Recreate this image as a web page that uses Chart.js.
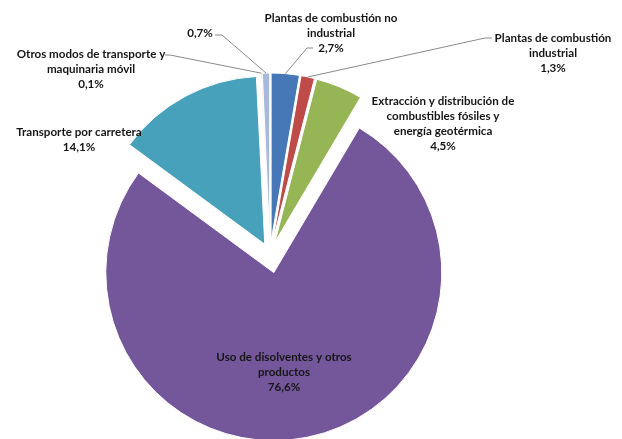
<!DOCTYPE html>
<html><head><meta charset="utf-8">
<script src="https://cdn.jsdelivr.net/npm/chart.js@4/dist/chart.umd.min.js"></script>
<style>html,body{margin:0;padding:0;background:#fff}#wrap{width:622px;height:439px;position:relative}</style>
</head><body><div id="wrap"><canvas id="c" width="622" height="439"></canvas></div>
<script>
// ---- data ----
const categories = [
  "Plantas de combustión no industrial",
  "Plantas de combustión industrial",
  "Extracción y distribución de combustibles fósiles y energía geotérmica",
  "Uso de disolventes y otros productos",
  "Transporte por carretera",
  "Otros modos de transporte y maquinaria móvil",
  ""
];
const values = [2.7, 1.3, 4.5, 76.6, 14.1, 0.1, 0.7];
const valueLabels = ["2,7%", "1,3%", "4,5%", "76,6%", "14,1%", "0,1%", "0,7%"];
const categoryLines = [
  ["Plantas de combustión no", "industrial"],
  ["Plantas de combustión", "industrial"],
  ["Extracción y distribución de", "combustibles fósiles y", "energía geotérmica"],
  ["Uso de disolventes y otros", "productos"],
  ["Transporte por carretera"],
  ["Otros modos de transporte y", "maquinaria móvil"],
  []
];

// ---- style ----
const colors = ['#4677B6', '#BE4B48', '#96B656', '#74579A', '#48A1BB', '#F79646', '#A7BADC'];
const explode = [13, 13, 13, 19, 11, 13, 13];
const labelPos = [
  {x: 331, y: 18, leader: [[313, 48], [307, 48]]},
  {x: 553, y: 38, leader: [[492, 38], [485, 38]]},
  {x: 443, y: 101},
  {x: 284, y: 357},
  {x: 79, y: 132},
  {x: 91, y: 54, leader: [[165, 55], [170, 55]]},
  {x: 200, y: 33, leader: [[215, 35], [222, 35]]}
];
const lineH = 15;

const explodePlugin = {
  id: 'explode',
  beforeDatasetDraw(chart, args) {
    const ctx = chart.ctx;
    args.meta.data.forEach((arc, i) => {
      const mid = (arc.startAngle + arc.endAngle) / 2;
      const d = explode[i];
      ctx.save();
      ctx.translate(Math.cos(mid) * d, Math.sin(mid) * d);
      arc.draw(ctx, chart.chartArea);
      ctx.restore();
    });
    return false;
  }
};

const labelPlugin = {
  id: 'labels',
  afterDraw(chart) {
    const ctx = chart.ctx;
    const meta = chart.getDatasetMeta(0);
    ctx.save();
    ctx.strokeStyle = '#8a8a8a';
    ctx.lineWidth = 1;
    meta.data.forEach((arc, i) => {
      const p = labelPos[i];
      if (!p.leader) return;
      const mid = (arc.startAngle + arc.endAngle) / 2;
      const r = arc.outerRadius + explode[i];
      const ex = arc.x + Math.cos(mid) * r;
      const ey = arc.y + Math.sin(mid) * r;
      ctx.beginPath();
      ctx.moveTo(p.leader[0][0], p.leader[0][1]);
      ctx.lineTo(p.leader[1][0], p.leader[1][1]);
      ctx.lineTo(ex, ey);
      ctx.stroke();
    });
    ctx.fillStyle = '#161616';
    ctx.font = 'bold 11.6px Lato';
    ctx.textAlign = 'center';
    ctx.textBaseline = 'middle';
    meta.data.forEach((arc, i) => {
      const p = labelPos[i];
      const lines = categoryLines[i].concat([valueLabels[i]]);
      lines.forEach((t, k) => ctx.fillText(t, p.x, p.y + k * lineH));
    });
    ctx.restore();
  }
};

new Chart(document.getElementById('c'), {
  type: 'pie',
  data: {
    labels: categories,
    datasets: [{
      data: values,
      backgroundColor: colors,
      borderColor: '#ffffff',
      borderWidth: 1,
      radius: 168
    }]
  },
  options: {
    responsive: false,
    animation: false,
    events: [],
    layout: {padding: {left: 0, right: 82, top: 69, bottom: 0}},
    plugins: {legend: {display: false}, tooltip: {enabled: false}}
  },
  plugins: [explodePlugin, labelPlugin]
});
</script>
</body></html>
